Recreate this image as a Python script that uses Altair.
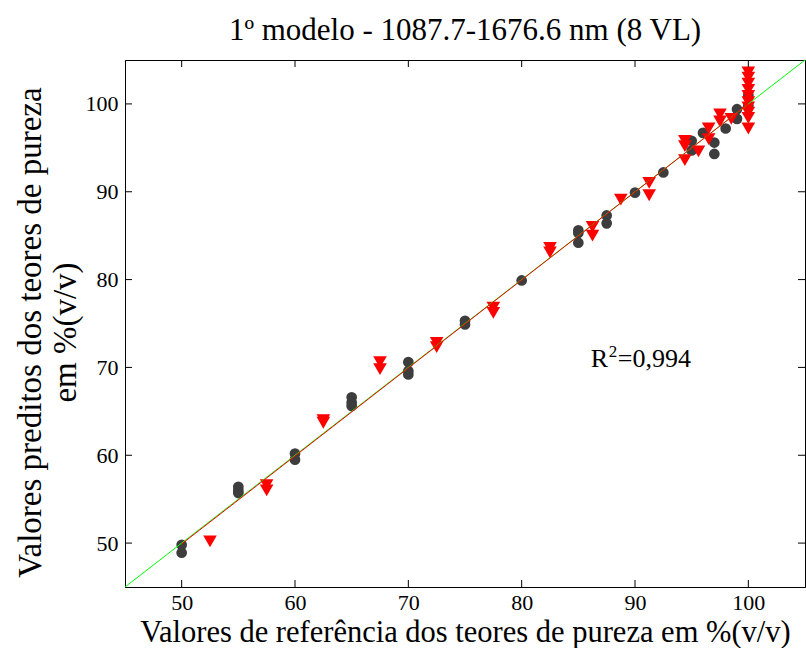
import altair as alt
import pandas as pd

# Calibration set (reference vs predicted purity, % v/v)
cal_ref = [50, 50, 55, 55, 55, 60, 60, 65, 65, 65, 70, 70, 70, 75, 75, 80,
           85, 85, 85, 87.5, 87.5, 90, 92.5, 95, 95, 96, 97, 97, 98, 99, 99,
           100, 100]
cal_pred = [49.8, 48.9, 56.4, 56.0, 55.7, 60.2, 59.5, 66.6, 66.0, 65.6,
            70.6, 69.6, 69.2, 75.3, 74.9, 79.9, 85.6, 85.3, 84.2, 87.3, 86.4,
            89.9, 92.2, 94.7, 95.8, 96.7, 95.6, 94.3, 97.2, 99.4, 98.3,
            101.0, 99.8]

# Validation set
val_ref = [52.5, 57.5, 57.5, 62.5, 62.5, 67.5, 67.5, 72.5, 72.5, 77.5, 77.5,
           82.5, 82.5, 86.25, 86.25, 88.75, 91.25, 91.25, 94.4, 94.4, 94.4,
           95.6, 96.5, 96.5, 97.5, 97.5, 98.5,
           100, 100, 100, 100, 100, 100, 100, 100, 100, 100]
val_pred = [50.2, 56.6, 56.0, 64.0, 63.7, 70.6, 69.8, 72.8, 72.3, 76.8, 76.2,
            83.6, 83.1, 86.0, 85.0, 89.1, 91.0, 89.6, 95.8, 95.2, 93.6,
            94.6, 97.2, 96.0, 98.8, 98.0, 98.3,
            103.6, 103.0, 102.3, 101.6, 100.9, 100.2, 99.6, 99.0, 98.4, 97.2]

# Ideal 1:1 line and fitted regression line
ideal_x = [45, 105]
ideal_y = [45, 105]
fit_x = [50, 100]
fit_y = [49.9, 100.0]

tick_values = [50, 60, 70, 80, 90, 100]
r2_value = "=0,994"

W, H = 680, 527
DOMAIN = [45, 105]
SERIF = "Liberation Serif"

x_axis = alt.Axis(values=tick_values, tickSize=0, labelPadding=5, grid=False,
                  title="Valores de referência dos teores de pureza em %(v/v)",
                  titlePadding=4, titleFontSize=30.5)
y_axis = alt.Axis(values=tick_values, tickSize=0, labelPadding=7, grid=False,
                  title=["Valores preditos dos teores de pureza", "em %(v/v)"],
                  titlePadding=3, titleLineHeight=35, titleFontSize=33,
                  titleY=272)

xs = alt.Scale(domain=DOMAIN, nice=False, zero=False)
ys = alt.Scale(domain=DOMAIN, nice=False, zero=False)


def X(field):
    return alt.X(f"{field}:Q", scale=xs, axis=x_axis)


def Y(field):
    return alt.Y(f"{field}:Q", scale=ys, axis=y_axis)


cal_df = pd.DataFrame({"ref": cal_ref, "pred": cal_pred})
val_df = pd.DataFrame({"ref": val_ref, "pred": val_pred})
ideal_df = pd.DataFrame({"ref": ideal_x, "pred": ideal_y})
fit_df = pd.DataFrame({"ref": fit_x, "pred": fit_y})
tick_df = pd.DataFrame({"ref": tick_values, "pred": tick_values})

cal = alt.Chart(cal_df).mark_point(
    shape="circle", filled=True, size=115, color="#3d3d3d", opacity=1
).encode(x=X("ref"), y=Y("pred"))

val = alt.Chart(val_df).mark_point(
    shape="triangle-down", filled=True, size=185, color="#ff0000", opacity=1
).encode(x=X("ref"), y=Y("pred"))

ideal = alt.Chart(ideal_df).mark_line(color="#00ff00", strokeWidth=1).encode(
    x=X("ref"), y=Y("pred"))

fit = alt.Chart(fit_df).mark_line(color="#ff0000", strokeWidth=1).encode(
    x=X("ref"), y=Y("pred"))

# R² annotation: "R", superscript "2", then the value
r2_df = pd.DataFrame({"ref": [86.1], "pred": [70.1]})
r2_base = alt.Chart(r2_df).encode(x=X("ref"), y=Y("pred"))
r2_r = r2_base.mark_text(text="R", font=SERIF, fontSize=26, align="left",
                         baseline="alphabetic", color="black")
r2_sup = r2_base.mark_text(text="2", font=SERIF, fontSize=17, align="left",
                           baseline="alphabetic", color="black", dx=18, dy=-10)
r2_val = r2_base.mark_text(text=r2_value, font=SERIF, fontSize=26, align="left",
                           baseline="alphabetic", color="black", dx=27)

# Inward tick marks on all four sides of the frame
TL = 7
tick_bottom = alt.Chart(tick_df).mark_rule(color="black").encode(
    x=X("ref"), y=alt.value(H), y2=alt.value(H - TL))
tick_top = alt.Chart(tick_df).mark_rule(color="black").encode(
    x=X("ref"), y=alt.value(0), y2=alt.value(TL))
tick_left = alt.Chart(tick_df).mark_rule(color="black").encode(
    y=Y("pred"), x=alt.value(0), x2=alt.value(TL))
tick_right = alt.Chart(tick_df).mark_rule(color="black").encode(
    y=Y("pred"), x=alt.value(W), x2=alt.value(W - TL))

chart = alt.layer(
    cal, val, ideal, fit, r2_r, r2_sup, r2_val,
    tick_bottom, tick_top, tick_left, tick_right
).properties(
    width=W, height=H,
    title=alt.TitleParams("1º modelo - 1087.7-1676.6 nm (8 VL)", font=SERIF,
                          fontSize=31, fontWeight="normal", color="black",
                          anchor="middle", offset=11),
    autosize=alt.AutoSizeParams(type="none"),
    padding={"left": 125, "top": 60, "right": 1, "bottom": 61},
    background="white",
).configure_view(
    stroke="black", strokeWidth=1
).configure_axis(
    domainColor="black", labelFont=SERIF, labelFontSize=22, labelColor="black",
    titleFont=SERIF, titleFontWeight="normal", titleColor="black"
)

chart.save("out.html", embed_options={"renderer": "svg", "actions": False})
